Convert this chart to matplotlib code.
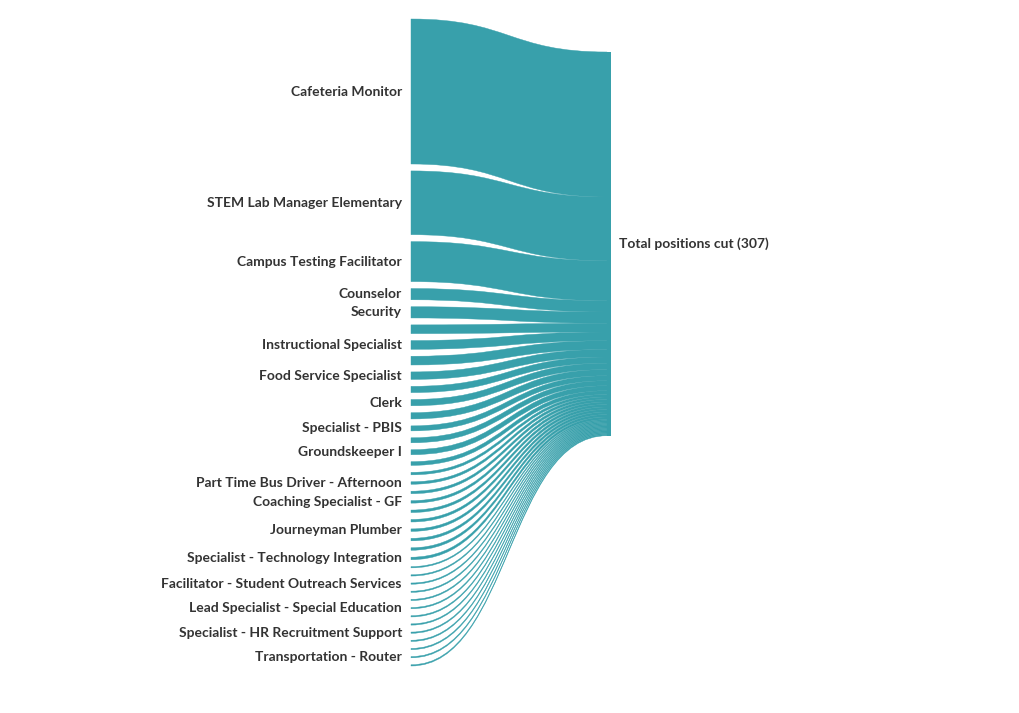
import matplotlib
matplotlib.use("Agg")
import matplotlib.pyplot as plt
from matplotlib.path import Path
from matplotlib.patches import PathPatch, Rectangle

labels = ["Cafeteria Monitor", "STEM Lab Manager Elementary", "Campus Testing Facilitator",
          "Counselor", "Security", "", "Instructional Specialist", "", "Food Service Specialist",
          "", "Clerk", "", "Specialist - PBIS", "", "Groundskeeper I", "", "",
          "Part Time Bus Driver - Afternoon", "", "Coaching Specialist - GF", "", "",
          "Journeyman Plumber", "", "", "Specialist - Technology Integration", "", "",
          "Facilitator - Student Outreach Services", "", "", "Lead Specialist - Special Education",
          "", "", "Specialist - HR Recruitment Support", "", "", "Transportation - Router", ""]
values = [116, 51, 32, 9, 9, 7, 7, 7, 6, 5, 5, 5, 4, 4, 4, 3, 2,
          2, 2, 2, 2, 2, 2, 2, 2, 2,
          1, 1, 1, 1, 1, 1, 1, 1, 1, 1, 1, 1, 1]
target = "Total positions cut (307)"

COLOR = "#38a0ab"
fig = plt.figure(figsize=(10.2, 7.13), dpi=100)
ax = fig.add_axes([0, 0, 1, 1])
ax.set_xlim(0, 1020)
ax.set_ylim(713, 0)
ax.axis("off")

k = 1.25
top_l, bot_l = 19, 666
n = len(values)
total = sum(values)
gap = (bot_l - top_l - total * k) / (n - 1)
xl, xr = 411, 607
yl = top_l
yr = 52
def bez(x0, y0, x1, y1):
    xm = (x0 + x1) / 2
    return [(x0, y0), (xm, y0), (xm, y1), (x1, y1)]
for lab, v in zip(labels, values):
    h = v * k
    topc = bez(xl, yl, xr, yr)
    botc = bez(xr, yr + h, xl, yl + h)
    verts = topc + [(xr, yr + h)] + botc[1:] + [(xl, yl)]
    codes = [Path.MOVETO, Path.CURVE4, Path.CURVE4, Path.CURVE4, Path.LINETO,
             Path.CURVE4, Path.CURVE4, Path.CURVE4, Path.CLOSEPOLY]
    ax.add_patch(PathPatch(Path(verts, codes), fc=COLOR, ec=COLOR, lw=0.3))
    if lab:
        ax.text(402, yl + h / 2, lab, ha="right", va="center", fontsize=10,
                fontweight="bold", color="#333333", family="Lato")
    yl += h + gap
    yr += h
ax.add_patch(Rectangle((xr, 52), 4, total * k, fc=COLOR, ec="none"))
ax.text(619, 52 + total * k / 2, target, ha="left", va="center", fontsize=10,
        fontweight="bold", color="#333333", family="Lato")
fig.savefig("out.png", dpi=100)
